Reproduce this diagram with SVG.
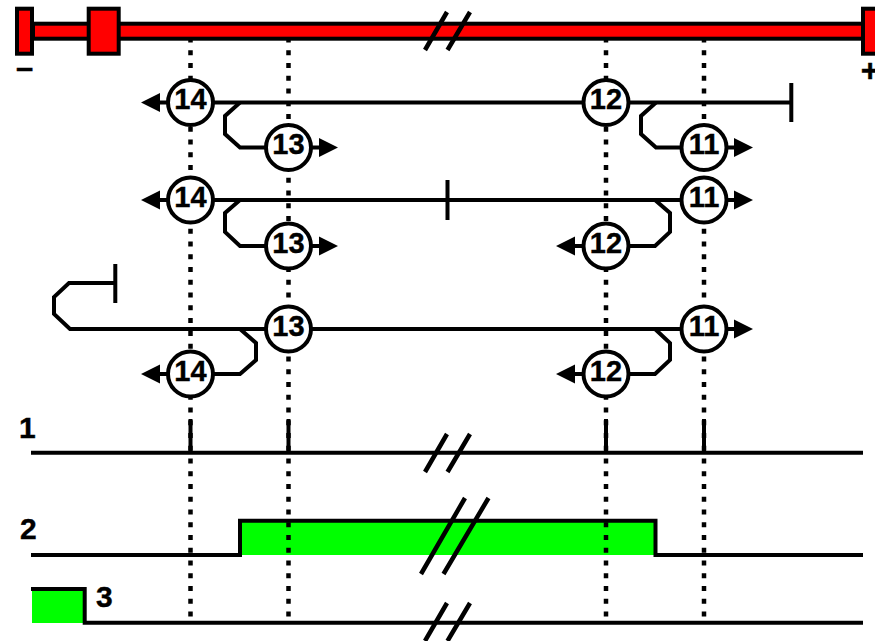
<svg xmlns="http://www.w3.org/2000/svg" width="875" height="641" viewBox="0 0 875 641">
<style>
.ln{fill:none;stroke:#000;stroke-width:4}
.brk{fill:none;stroke:#000;stroke-width:4.500}
.dot{fill:none;stroke:#000;stroke-width:4.500;stroke-dasharray:5 7.76}
.red{fill:#f00;stroke:#000;stroke-width:4}
.grn{fill:#0f0;stroke:none}
.hd{fill:#000;stroke:none}
.nc{fill:#fff;stroke:#000;stroke-width:4}
text{font-family:"Liberation Sans",Arial,sans-serif;font-weight:700;fill:#000;stroke:#000;stroke-width:.4}
.nt{font-size:29px;text-anchor:middle}
.lb{font-size:30px}
</style>
<rect width="875" height="641" fill="#fff"/>
<g id="signal-fills">
<rect class="grn" x="242" y="522" width="412" height="33"/>
<rect class="grn" x="32" y="590" width="51" height="33"/>
</g>
<g id="axis">
<rect class="red" x="33" y="23.7" width="830" height="15"/>
<rect class="red" x="17" y="8.7" width="15" height="45"/>
<rect class="red" x="88.7" y="8.7" width="30" height="45"/>
<rect class="red" x="863" y="8.7" width="20" height="45"/>
<path class="brk" d="M425 50L447 12M447.500 50L470 12"/>
<text x="16" y="77.500" font-size="31px">–</text>
<text x="860.700" y="80.500" font-size="32px">+</text>
</g>
<g id="guides">
<path class="dot" d="M190.500 37.400V617M288.500 37.400V617M606 37.400V617M704 37.400V617"/>
</g>
<g id="connectors">
<path class="ln" d="M212 102.500H791.300M791.300 83V122"/>
<path class="ln" d="M240 102.500L225 116V134L240 147.500H266"/>
<path class="ln" d="M656 102.500L641 116V134L656 147.500H682"/>
<path class="ln" d="M212 200H682M447.500 180V220"/>
<path class="ln" d="M240 200L225 213V232L240 246H266"/>
<path class="ln" d="M655 200L670 213V232L655 246H628"/>
<path class="ln" d="M115.300 264V303M115.300 283H69L54 297V314L70 329H682"/>
<path class="ln" d="M240 329L256 343V360L240 374H212"/>
<path class="ln" d="M655 329L670 343V360L655 374H628"/>
<path class="ln" d="M158 102.500H168M158 200H168M158 374H168M574 246H584M574 374H584M310 147.500H322M310 246H322M726 147.500H737M726 200H737M726 329H737"/>
<path class="hd" d="M141 102.500L160 93V112ZM141 200L160 190.500V209.500ZM141 374L160 364.500V383.500ZM556 246L575 236.500V255.500ZM556 374L575 364.500V383.500ZM338 147.500L319 138V157ZM338 246L319 236.500V255.500ZM753 147.500L734 138V157ZM753 200L734 190.500V209.500ZM753 329L734 319.500V338.500Z"/>
</g>
<g id="node-14a"><circle class="nc" cx="190.500" cy="102.500" r="22.500"/><text class="nt" x="190.500" y="109">14</text></g>
<g id="node-13a"><circle class="nc" cx="288.500" cy="147.500" r="22.500"/><text class="nt" x="288.500" y="154">13</text></g>
<g id="node-12a"><circle class="nc" cx="606" cy="102.500" r="22.500"/><text class="nt" x="606" y="109">12</text></g>
<g id="node-11a"><circle class="nc" cx="704" cy="147.500" r="22.500"/><text class="nt" x="704" y="154">11</text></g>
<g id="node-14b"><circle class="nc" cx="190.500" cy="200" r="22.500"/><text class="nt" x="190.500" y="206.500">14</text></g>
<g id="node-13b"><circle class="nc" cx="288.500" cy="246" r="22.500"/><text class="nt" x="288.500" y="252.500">13</text></g>
<g id="node-12b"><circle class="nc" cx="606" cy="246" r="22.500"/><text class="nt" x="606" y="252.500">12</text></g>
<g id="node-11b"><circle class="nc" cx="704" cy="200" r="22.500"/><text class="nt" x="704" y="206.500">11</text></g>
<g id="node-13c"><circle class="nc" cx="288.500" cy="329" r="22.500"/><text class="nt" x="288.500" y="335.500">13</text></g>
<g id="node-14c"><circle class="nc" cx="190.500" cy="374" r="22.500"/><text class="nt" x="190.500" y="380.500">14</text></g>
<g id="node-12c"><circle class="nc" cx="606" cy="374" r="22.500"/><text class="nt" x="606" y="380.500">12</text></g>
<g id="node-11c"><circle class="nc" cx="704" cy="329" r="22.500"/><text class="nt" x="704" y="335.500">11</text></g>
<g id="signal-1">
<path class="ln" d="M31 452.700H863M190.500 419V452M288.500 419V452M606 419V452M704 419V452"/>
<path class="brk" d="M425 472L447 434M447.500 472L470 434"/>
<text class="lb" x="19" y="437.500">1</text>
</g>
<g id="signal-2">
<path class="ln" d="M31 555H240V520.700H655.500V555H863"/>
<path class="brk" d="M421 574L465 498M443.500 574L488.500 498"/>
<text class="lb" x="20" y="539">2</text>
</g>
<g id="signal-3">
<path class="ln" d="M31 589H84.700V622.700H863"/>
<path class="brk" d="M425 641L447 603M447.500 641L470 603"/>
<text class="lb" x="96" y="606.500">3</text>
</g>
</svg>
